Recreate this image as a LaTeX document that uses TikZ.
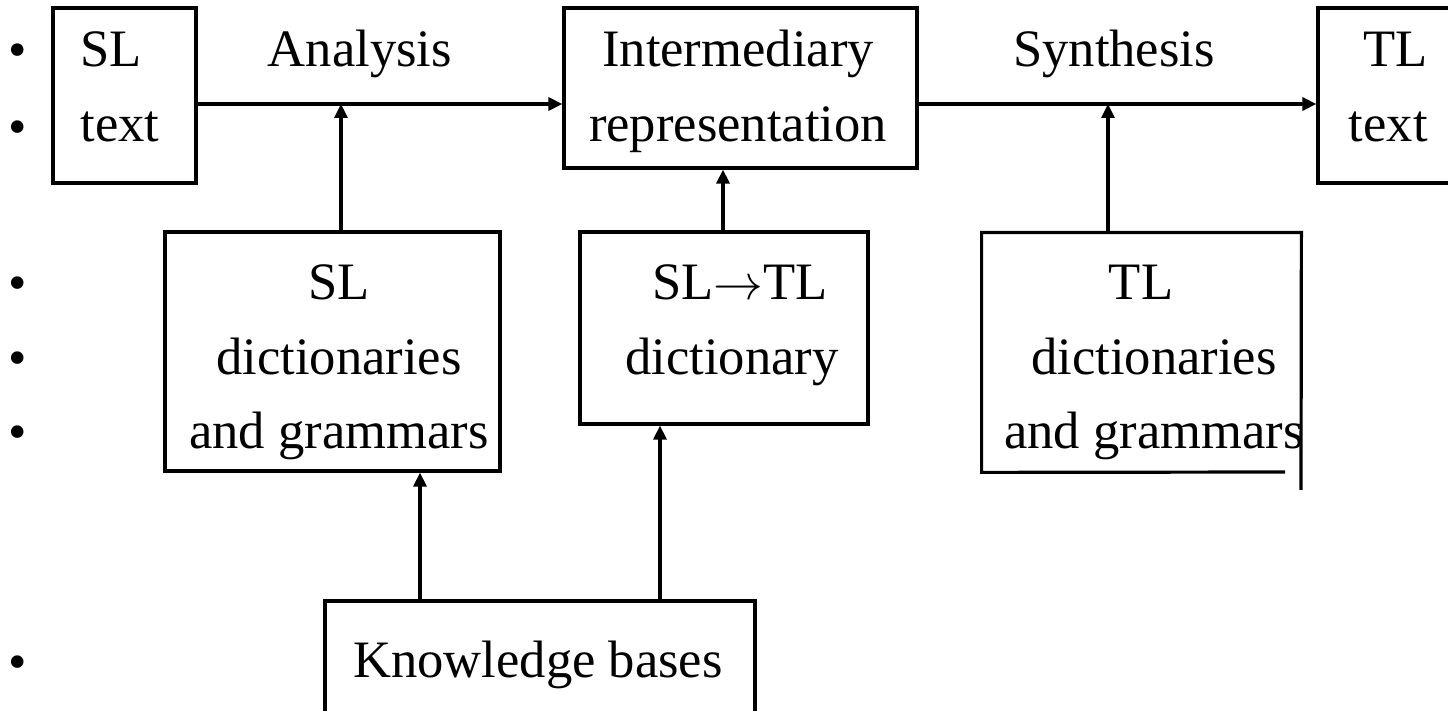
\documentclass[tikz,border=0pt]{standalone}
\usepackage{fontspec}
\setmainfont{Liberation Serif}
\usetikzlibrary{arrows.meta,fit}
\begin{document}
\begin{tikzpicture}[x=0.5pt,y=-0.5pt,
  box/.style={draw, line width=1.6pt, inner sep=0pt},
  lbl/.style={font=\fontsize{26.3}{30}\selectfont, inner sep=0pt, anchor=base},
  arr/.style={line width=1.6pt, -{Triangle[length=7pt,width=6.5pt]}}]
\clip (0,0) rectangle (1448,711);
\fill[white] (0,0) rectangle (1448,711);
% boxes
\node[box, fit={(53,8) (196,183)}] (slt) {};
\node[box, fit={(564,8) (917,168)}] (ir) {};
\node[box, fit={(1318,8) (1500,183)}] (tlt) {};
\node[box, fit={(165,232) (500,471)}] (sld) {};
\node[box, fit={(580,232) (868,424)}] (sltl) {};
\node[inner sep=0pt, fit={(982,233) (1301,472)}] (tld) {};
\draw[line width=1.6pt] (1285,472) -- (tld.south west) -- (tld.north west) -- (tld.north east) -- (1301,490);
\node[box, fit={(325,601) (755,780)}] (kb) {};
% labels
\node[lbl, anchor=base west] (sl1) at (80,67) {SL};
\node[lbl, anchor=base west] (sl2) at (80,142) {text};
\node[lbl] (an) at (360,67) {Analysis};
\node[lbl] (ir1) at (738,67) {Intermediary};
\node[lbl] (ir2) at (738,142) {representation};
\node[lbl] (sy) at (1114,67) {Synthesis};
\node[lbl, anchor=base east] (tl1) at (1428,67) {TL};
\node[lbl, anchor=base east] (tl2) at (1428,142) {text};
\node[lbl] (sd1) at (339,300) {SL};
\node[lbl] (sd2) at (339,375) {dictionaries};
\node[lbl] (sd3) at (339,449) {and grammars};
\node[lbl] (st1) at (740,300) {SL$\rightarrow$TL};
\node[lbl] (st2) at (732,375) {dictionary};
\node[lbl] (td1) at (1141,300) {TL};
\node[lbl] (td2) at (1154,375) {dictionaries};
\node[lbl] (td3) at (1154,449) {and grammars};
\node[lbl] (kbt) at (538,677) {Knowledge bases};
% bullets
\foreach \yy [count=\i] in {68,145,301,376,450,679}
  \node[lbl] (b\i) at (18,\yy) {•};
% connectors
\coordinate (mainy) at (0,104);
\coordinate (ax) at (341,0);
\coordinate (sx) at (723,0);
\coordinate (tx) at (1108,0);
\coordinate (k1) at (420,0);
\coordinate (k2) at (660,0);
\draw[arr] (slt.east |- mainy) -- (ir.west |- mainy);
\draw[arr] (ir.east |- mainy) -- (tlt.west |- mainy);
\draw[arr] (sld.north -| ax) -- (ax |- mainy);
\draw[arr] (sltl.north -| sx) -- (ir.south -| sx);
\draw[arr] (tld.north -| tx) -- (tx |- mainy);
\draw[arr] (kb.north -| k1) -- (sld.south -| k1);
\draw[arr] (kb.north -| k2) -- (sltl.south -| k2);
\end{tikzpicture}
\end{document}
